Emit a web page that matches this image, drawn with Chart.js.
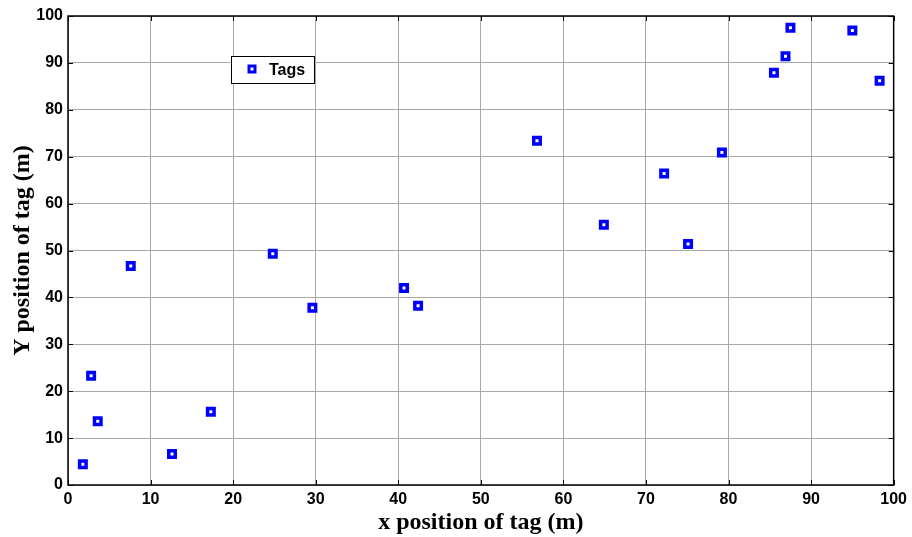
<!DOCTYPE html>
<html><head><meta charset="utf-8">
<script src="https://cdn.jsdelivr.net/npm/chart.js@4"></script>
<style>html,body{margin:0;padding:0;background:#fff}#wrap{width:912px;height:537px}</style>
</head><body><div id="wrap"><canvas id="c" width="912" height="537"></canvas></div>
<script>
const seriesName = "Tags";
const xValues = [1.8, 2.8, 3.6, 7.6, 12.6, 17.3, 24.8, 29.6, 40.7, 42.4, 56.8, 64.9, 72.2, 75.1, 79.2, 85.5, 86.9, 87.5, 95.0, 98.3];
const yValues = [4.4, 23.3, 13.6, 46.7, 6.6, 15.6, 49.3, 37.8, 42.0, 38.2, 73.4, 55.5, 66.4, 51.4, 70.9, 87.9, 91.4, 97.5, 96.9, 86.2];
const xTicks = [0,10,20,30,40,50,60,70,80,90,100];
const yTicks = [0,10,20,30,40,50,60,70,80,90,100];
const xTitle = "x position of tag (m)";
const yTitle = "Y position of tag (m)";

const points = xValues.map((x,i)=>({x:x,y:yValues[i]}));

const framePlugin = {
  id:'frame',
  afterDraw(chart){
    const {ctx, chartArea:a, scales} = chart;
    ctx.save();
    ctx.strokeStyle='#000';
    ctx.lineWidth=1;
    const tl=5;
    ctx.beginPath();
    xTicks.forEach(v=>{const p=Math.round(scales.x.getPixelForValue(v))+0.5;
      ctx.moveTo(p,a.bottom);ctx.lineTo(p,a.bottom-tl);
      ctx.moveTo(p,a.top);ctx.lineTo(p,a.top+tl);});
    yTicks.forEach(v=>{const p=Math.round(scales.y.getPixelForValue(v))+0.5;
      ctx.moveTo(a.left,p);ctx.lineTo(a.left+tl,p);
      ctx.moveTo(a.right,p);ctx.lineTo(a.right-tl,p);});
    ctx.stroke();
    ctx.lineWidth=1.5;
    ctx.strokeRect(a.left,a.top,a.right-a.left,a.bottom-a.top);
    // legend
    const lx=231, ly=56, lw=83, lh=27;
    ctx.fillStyle='#fff';
    ctx.fillRect(lx,ly,lw,lh);
    ctx.lineWidth=1;
    ctx.strokeStyle='#000';
    ctx.strokeRect(lx+0.5,ly+0.5,lw,lh);
    ctx.fillStyle='#fff';
    ctx.strokeStyle='#0000ff';
    ctx.lineWidth=3;
    ctx.fillRect(lx+18,ly+10,6,6);
    ctx.strokeRect(lx+18,ly+10,6,6);
    ctx.fillStyle='#000';
    ctx.font='bold 16px "Liberation Sans", Arial, sans-serif';
    ctx.textBaseline='middle';
    ctx.textAlign='left';
    ctx.fillText(seriesName, lx+38, ly+lh/2+1);
    ctx.restore();
  }
};

new Chart(document.getElementById('c'),{
  type:'scatter',
  data:{datasets:[{label:seriesName,data:points,pointStyle:'rect',pointRadius:4.6,pointHoverRadius:4.6,
    borderColor:'#0000ff',backgroundColor:'#ffffff',borderWidth:3.5,showLine:false}]},
  options:{
    responsive:false,animation:false,
    layout:{padding:{top:16,right:17,left:0,bottom:0}},
    plugins:{legend:{display:false},tooltip:{enabled:false}},
    scales:{
      x:{type:'linear',min:0,max:100,
        afterBuildTicks(s){s.ticks=xTicks.map(v=>({value:v}));},
        afterFit(s){s.height=52;},
        grid:{color:'#a8a8a8',lineWidth:1,drawTicks:false},
        border:{display:false},
        ticks:{color:'#000',padding:5,font:{family:'"Liberation Sans", Arial, sans-serif',size:16,weight:'bold'},maxRotation:0},
        title:{display:true,text:xTitle,color:'#000',padding:{top:0,bottom:0},font:{family:'"Liberation Serif", "Times New Roman", serif',size:24,weight:'bold'}}
      },
      y:{type:'linear',min:0,max:100,
        afterBuildTicks(s){s.ticks=yTicks.map(v=>({value:v}));},
        afterFit(s){s.width=68;},
        grid:{color:'#a8a8a8',lineWidth:1,drawTicks:false},
        border:{display:false},
        ticks:{color:'#000',padding:5,font:{family:'"Liberation Sans", Arial, sans-serif',size:16,weight:'bold'}},
        title:{display:true,text:yTitle,color:'#000',padding:{top:8,bottom:0},font:{family:'"Liberation Serif", "Times New Roman", serif',size:24,weight:'bold'}}
      }
    }
  },
  plugins:[framePlugin]
});
</script></body></html>
